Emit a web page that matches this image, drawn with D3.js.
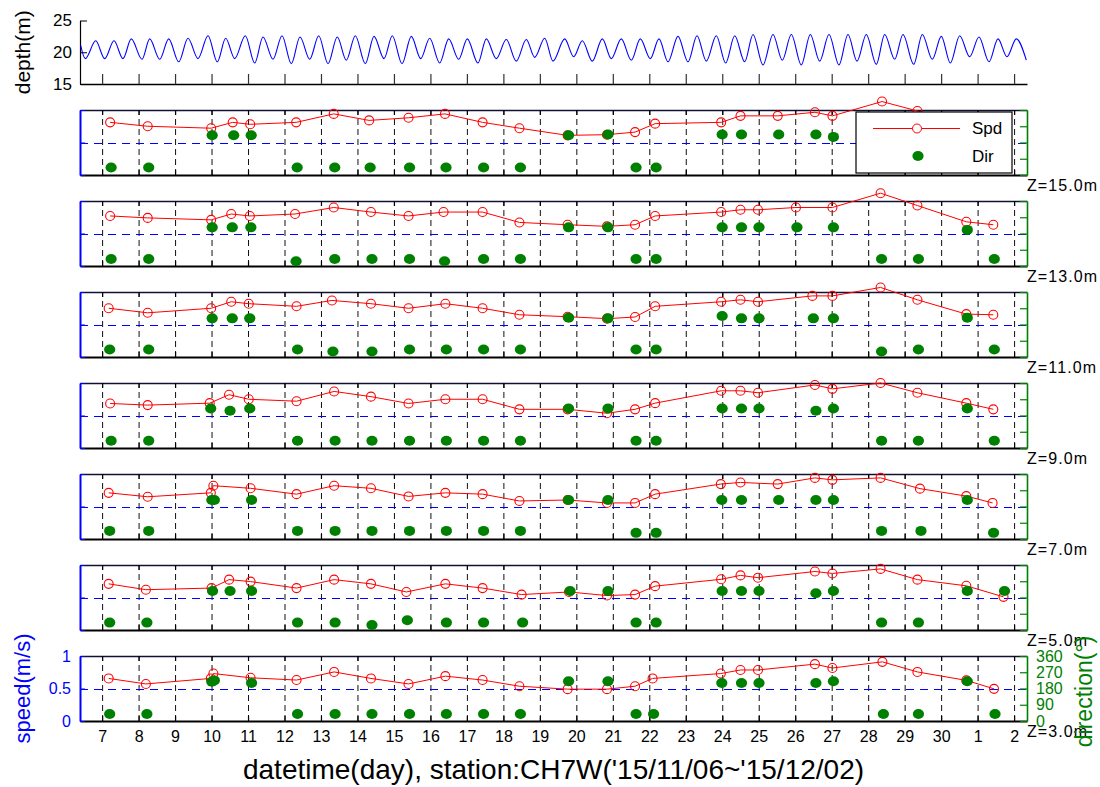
<!DOCTYPE html>
<html><head><meta charset="utf-8">
<script src="https://cdn.jsdelivr.net/npm/d3@7"></script>
<style>
body{margin:0;background:#fff}
svg{display:block}
text{font-family:"Liberation Sans",Arial,Helvetica,sans-serif}
</style></head>
<body>
<svg id="c" width="1100" height="787"></svg>
<script>
// ---------------- DATA (days = decimal day of Nov 2015; 31 = Dec 1) ----------------
const depthDay = [6.413,6.539,6.825,7.071,7.326,7.573,7.800,8.094,8.305,8.579,8.826,9.100,9.355,9.629,9.903,10.158,10.388,10.635,10.925,11.183,11.411,11.685,11.932,12.186,12.425,12.691,12.938,13.193,13.447,13.694,13.941,14.215,14.453,14.728,14.955,15.221,15.476,15.734,15.980,16.254,16.501,16.775,17.011,17.304,17.532,17.806,18.080,18.354,18.628,18.859,19.133,
  19.360,19.681,19.928,20.164,20.438,20.712,20.958,21.232,21.507,21.753,22.028,22.266,22.513,22.787,23.061,23.308,23.563,23.837,24.094,24.341,24.615,24.843,25.117,25.391,25.646,25.893,26.167,26.414,26.671,26.926,27.200,27.447,27.694,27.949,28.223,28.453,28.727,28.955,29.248,29.484,29.758,30.005,30.252,30.509,30.783,31.038,31.312,31.559,31.806,32.061,32.335];
const depthM = [21.1,19.0,21.8,19.0,21.8,19.0,22.1,18.9,22.1,18.9,22.1,18.5,22.2,19.0,22.6,18.5,22.2,19.0,22.6,18.3,22.4,18.9,22.6,18.2,22.4,18.9,22.6,18.2,22.4,18.75,22.6,18.2,22.5,19.0,22.6,18.2,22.5,19.0,22.2,18.3,22.1,18.9,22.1,18.3,22.1,19.0,22.0,18.6,22.0,19.2,22.2,
  18.6,22.1,19.3,21.8,18.6,22.1,19.0,22.1,18.75,22.1,19.0,22.1,18.5,22.5,18.5,22.6,18.6,22.6,18.3,22.6,18.5,22.8,18.0,22.8,18.75,22.8,18.0,22.8,18.6,22.8,18.0,22.8,18.6,22.8,18.1,22.8,18.9,22.8,18.1,22.8,18.9,22.5,18.3,22.6,19.3,22.4,18.5,22.1,19.3,22.1,18.75];

const zLabels = ["Z=15.0m","Z=13.0m","Z=11.0m","Z=9.0m","Z=7.0m","Z=5.0m","Z=3.0m"];

const tZ15 = [7.22,8.25,9.99,10.58,11.06,12.32,13.35,14.32,15.40,16.40,17.43,18.44,19.76,20.84,21.61,22.16,23.97,24.50,25.52,26.54,27.02,28.38,29.35,30.69,31.43];
const spdZ15 = [0.81,0.75,0.72,0.81,0.78,0.81,0.94,0.84,0.88,0.94,0.81,0.72,0.61,0.62,0.66,0.79,0.81,0.91,0.91,0.965,0.91,1.13,0.985,0.78,0.72];
const dirZ15 = [42,42,220,220,220,42,42,42,42,42,42,42,220,224,42,42,224,224,224,224,211,42,42,220,42];

const tZ13 = [7.22,8.25,9.99,10.54,11.05,12.29,13.35,14.37,15.40,16.36,17.43,18.44,19.76,20.84,21.61,22.16,23.97,24.50,24.98,26.02,27.02,28.34,29.35,30.69,31.43];
const spdZ13 = [0.77,0.74,0.71,0.80,0.77,0.80,0.90,0.83,0.77,0.83,0.83,0.67,0.635,0.61,0.635,0.77,0.83,0.865,0.865,0.90,0.90,1.12,0.93,0.68,0.635];
const dirZ13 = [39,39,214,214,214,26,39,39,39,26,39,39,214,214,39,39,214,214,214,214,214,39,39,200,39];

const tZ11 = [7.18,8.25,9.99,10.54,11.02,12.33,13.30,14.37,15.40,16.41,17.43,18.44,19.76,20.84,21.61,22.16,23.97,24.50,24.98,26.47,27.02,28.34,29.35,30.69,31.43];
const spdZ11 = [0.75,0.68,0.75,0.85,0.82,0.78,0.87,0.82,0.75,0.82,0.75,0.65,0.62,0.59,0.615,0.78,0.85,0.88,0.85,0.94,0.94,1.07,0.88,0.66,0.65];
const dirZ11 = [42,42,214,214,214,42,30,30,42,42,42,42,218,214,42,42,227,214,214,214,214,30,42,218,42];

const tZ9 = [7.22,8.25,9.95,10.48,11.02,12.33,13.36,14.37,15.40,16.41,17.43,18.44,19.76,20.84,21.61,22.16,23.97,24.50,24.98,26.54,27.02,28.34,29.35,30.69,31.43];
const spdZ9 = [0.685,0.66,0.69,0.82,0.75,0.72,0.87,0.79,0.685,0.75,0.75,0.595,0.595,0.535,0.595,0.69,0.88,0.88,0.85,0.97,0.91,1.0,0.85,0.69,0.595];
const dirZ9 = [40,40,219,206,219,40,40,40,40,40,40,40,219,219,40,40,219,219,219,206,219,40,40,219,40];

const tZ7 = [7.18,8.25,9.98,10.05,11.07,12.33,13.36,14.37,15.40,16.41,17.43,18.44,19.76,20.84,21.61,22.16,23.96,24.50,25.52,26.54,27.02,28.34,29.42,30.69,31.41];
const spdZ7 = [0.71,0.65,0.71,0.82,0.78,0.69,0.82,0.78,0.655,0.71,0.69,0.585,0.60,0.555,0.555,0.69,0.845,0.87,0.845,0.94,0.91,0.94,0.775,0.66,0.555];
const dirZ7 = [45,45,216,216,216,45,45,45,45,45,45,45,216,216,34,34,216,216,216,216,216,45,45,216,34];

const tZ5 = [7.18,8.20,10.00,10.48,11.07,12.33,13.36,14.37,15.34,16.41,17.43,18.50,19.80,20.84,21.61,22.16,23.97,24.50,24.98,26.54,27.02,28.34,29.35,30.69,31.71];
const spdZ5 = [0.71,0.62,0.645,0.775,0.745,0.645,0.775,0.71,0.585,0.71,0.645,0.545,0.585,0.53,0.545,0.675,0.78,0.84,0.805,0.90,0.87,0.94,0.775,0.68,0.51];
const dirZ5 = [41,41,216,216,216,41,41,28,54,41,41,41,216,216,41,41,216,216,216,204,216,41,41,216,216];

const tZ3 = [7.18,8.20,9.98,10.05,11.07,12.33,13.36,14.37,15.40,16.41,17.43,18.44,19.76,20.84,21.61,22.09,23.96,24.50,24.98,26.54,27.02,28.39,29.35,30.69,31.45];
const spdZ3 = [0.655,0.57,0.655,0.73,0.665,0.63,0.755,0.655,0.57,0.69,0.63,0.535,0.49,0.49,0.535,0.655,0.73,0.785,0.785,0.875,0.815,0.91,0.755,0.625,0.495];
const dirZ3 = [39,39,218,225,210,39,39,39,39,39,39,39,220,220,39,39,210,210,210,210,220,39,39,220,39];

const speedTicks = [0,0.5,1];
const dirTicks = [0,90,180,270,360];
const depthTicks = [15,20,25];

// ---------------- CHART ----------------
const svg = d3.select("#c");
const L = 80, R = 1027;
const BLUE = "#0000ff", RED = "#ff0000", GREEN = "#008000";
const T0 = Date.UTC(2015, 10, 0);
const toDate = d => new Date(T0 + d * 864e5);
const x = d3.scaleUtc().domain([toDate(6.394), toDate(32.354)]).range([L, R]);
const dayTicks = d3.utcDay.range(toDate(7), toDate(32.5));
const fmtDay = d3.utcFormat("%-d");

// depth panel
const yD = d3.scaleLinear().domain([15, 25]).range([84, 20.5]);
const gD = svg.append("g");
const gDx = gD.append("g").attr("transform", `translate(0,${yD(15)})`)
  .call(d3.axisBottom(x).tickValues(dayTicks).tickSize(-10).tickSizeOuter(0).tickFormat(""));
gDx.select(".domain").attr("stroke", "#000").attr("stroke-width", 1.5);
gDx.selectAll(".tick line").attr("stroke", "#333").attr("stroke-width", 1.2);
const gDy = gD.append("g").attr("transform", `translate(${L},0)`)
  .call(d3.axisLeft(yD).tickValues(depthTicks).tickSize(-7).tickSizeOuter(0).tickPadding(8));
gDy.select(".domain").attr("stroke", "#000").attr("stroke-width", 1.2);
gDy.selectAll(".tick line").attr("stroke", "#000");
gDy.selectAll("text").attr("font-size", 17).attr("fill", "#000");
gD.append("path")
  .datum(depthDay.map((d, i) => [d, depthM[i]]))
  .attr("d", d3.line().x(p => x(toDate(p[0]))).y(p => yD(p[1])).curve(d3.curveMonotoneX))
  .attr("fill", "none").attr("stroke", BLUE).attr("stroke-width", 1.1);

svg.append("text").attr("transform", `translate(30,${(yD(25)+yD(15))/2}) rotate(-90)`)
  .attr("text-anchor", "middle").attr("font-size", 21).attr("fill", "#000").text("depth(m)");

// speed/direction panels
const panels = [
  {t: tZ15, s: spdZ15, d: dirZ15},
  {t: tZ13, s: spdZ13, d: dirZ13},
  {t: tZ11, s: spdZ11, d: dirZ11},
  {t: tZ9,  s: spdZ9,  d: dirZ9},
  {t: tZ7,  s: spdZ7,  d: dirZ7},
  {t: tZ5,  s: spdZ5,  d: dirZ5},
  {t: tZ3,  s: spdZ3,  d: dirZ3}
];
const PH = 65, P0 = 110, PSTEP = 91;

panels.forEach((p, i) => {
  const top = P0 + PSTEP * i, bot = top + PH;
  const last = i === panels.length - 1;
  const ys = d3.scaleLinear().domain([0, 1]).range([bot, top]);
  const yd = d3.scaleLinear().domain([0, 360]).range([bot, top]);
  const g = svg.append("g");

  // dashed day grid
  const grid = g.append("g").attr("transform", `translate(0,${bot})`)
    .call(d3.axisBottom(x).tickValues(dayTicks).tickSize(-PH).tickSizeOuter(0).tickFormat(""));
  grid.select(".domain").remove();
  grid.selectAll(".tick line").attr("stroke", "#111").attr("stroke-dasharray", "6,4").attr("stroke-width", 1);

  // 0.5 m/s reference
  const yh = Math.round(ys(0.5)) + 0.5;
  g.append("line").attr("x1", x.range()[0]).attr("x2", x.range()[1])
    .attr("y1", yh).attr("y2", yh)
    .attr("stroke", BLUE).attr("stroke-width", 1).attr("stroke-dasharray", "8,6");

  // bottom and top axes with inward ticks
  const bx = g.append("g").attr("transform", `translate(0,${bot})`)
    .call(d3.axisBottom(x).tickValues(dayTicks).tickSize(-5).tickSizeOuter(0).tickFormat(""));
  bx.select(".domain").attr("stroke", "#000").attr("stroke-width", 2);
  bx.selectAll(".tick line").attr("stroke", "#000").attr("stroke-width", 1.2);
  const tx = g.append("g").attr("transform", `translate(0,${top})`)
    .call(d3.axisTop(x).tickValues(dayTicks).tickSize(-5).tickSizeOuter(0).tickFormat(""));
  tx.select(".domain").attr("stroke", "#111133").attr("stroke-width", 1.6);
  tx.selectAll(".tick line").attr("stroke", "#000").attr("stroke-width", 1.2);

  if (last) {
    const lx = g.append("g").attr("transform", `translate(0,${bot})`)
      .call(d3.axisBottom(x).tickValues(dayTicks).tickSize(0).tickPadding(10).tickFormat(fmtDay));
    lx.select(".domain").remove();
    lx.selectAll("text").attr("font-size", 16).attr("fill", "#000");
  }

  // left speed axis
  const ly = g.append("g").attr("transform", `translate(${L},0)`)
    .call(d3.axisLeft(ys).tickValues(speedTicks).tickSize(-5).tickSizeOuter(0).tickPadding(9)
      .tickFormat(last ? (d => String(d)) : ""));
  ly.select(".domain").attr("stroke", BLUE).attr("stroke-width", 2);
  ly.selectAll(".tick line").attr("stroke", BLUE);
  ly.selectAll("text").attr("font-size", 16).attr("fill", BLUE);

  // right direction axis
  const ry = g.append("g").attr("transform", `translate(${R},0)`)
    .call(d3.axisRight(yd).tickValues(dirTicks).tickSize(-7).tickSizeOuter(0).tickPadding(9)
      .tickFormat(last ? (d => String(d)) : ""));
  ry.select(".domain").attr("stroke", GREEN).attr("stroke-width", 1.6);
  ry.selectAll(".tick line").attr("stroke", GREEN).attr("stroke-width", 1.2);
  ry.selectAll("text").attr("font-size", 16).attr("fill", GREEN);

  // speed line + circles
  const pts = p.t.map((t, k) => ({t, s: p.s[k], d: p.d[k]}));
  g.append("path").datum(pts)
    .attr("d", d3.line().x(q => x(toDate(q.t))).y(q => ys(q.s)))
    .attr("fill", "none").attr("stroke", RED).attr("stroke-width", 1);
  g.selectAll("circle.spd").data(pts).join("circle").attr("class", "spd")
    .attr("cx", q => x(toDate(q.t))).attr("cy", q => ys(q.s)).attr("r", 4.5)
    .attr("fill", "none").attr("stroke", RED).attr("stroke-width", 1.1);
  // direction dots
  g.selectAll("ellipse.dir").data(pts).join("ellipse").attr("class", "dir")
    .attr("cx", q => x(toDate(q.t)) + 1).attr("cy", q => yd(q.d)).attr("rx", 5.6).attr("ry", 5)
    .attr("fill", GREEN);

  // depth label
  svg.append("text").attr("x", R).attr("y", bot + 10).attr("dominant-baseline", "central")
    .attr("font-size", 16).attr("letter-spacing", 1.1).attr("fill", "#000").text(zLabels[i]);
});

// legend (over first panel)
const lg = svg.append("g").attr("transform", "translate(856,112)");
lg.append("rect").attr("width", 156).attr("height", 61).attr("fill", "#fff").attr("stroke", "#000").attr("stroke-width", 1.2);
lg.append("line").attr("x1", 17).attr("x2", 104).attr("y1", 16.5).attr("y2", 16.5).attr("stroke", RED).attr("stroke-width", 1);
lg.append("circle").attr("cx", 61).attr("cy", 16.5).attr("r", 4.5).attr("fill", "#fff").attr("stroke", RED);
lg.append("ellipse").attr("cx", 62).attr("cy", 44).attr("rx", 5.6).attr("ry", 5).attr("fill", GREEN);
lg.append("text").attr("x", 116).attr("y", 16.5).attr("dominant-baseline", "central").attr("font-size", 17).text("Spd");
lg.append("text").attr("x", 116).attr("y", 44).attr("dominant-baseline", "central").attr("font-size", 17).text("Dir");

// axis titles
const lastTop = P0 + PSTEP * (panels.length - 1);
svg.append("text").attr("transform", `translate(30,${lastTop + PH / 2}) rotate(-90)`)
  .attr("text-anchor", "middle").attr("font-size", 22).attr("fill", BLUE).text("speed(m/s)");
svg.append("text").attr("transform", `translate(1092,${lastTop + PH / 2 + 3}) rotate(-90)`)
  .attr("text-anchor", "middle").attr("font-size", 23).attr("fill", GREEN).text("direction(°)");
svg.append("text").attr("x", (L + R) / 2).attr("y", 779).attr("text-anchor", "middle")
  .attr("font-size", 28).attr("fill", "#000").text("datetime(day), station:CH7W('15/11/06~'15/12/02)");
</script>
</body></html>
